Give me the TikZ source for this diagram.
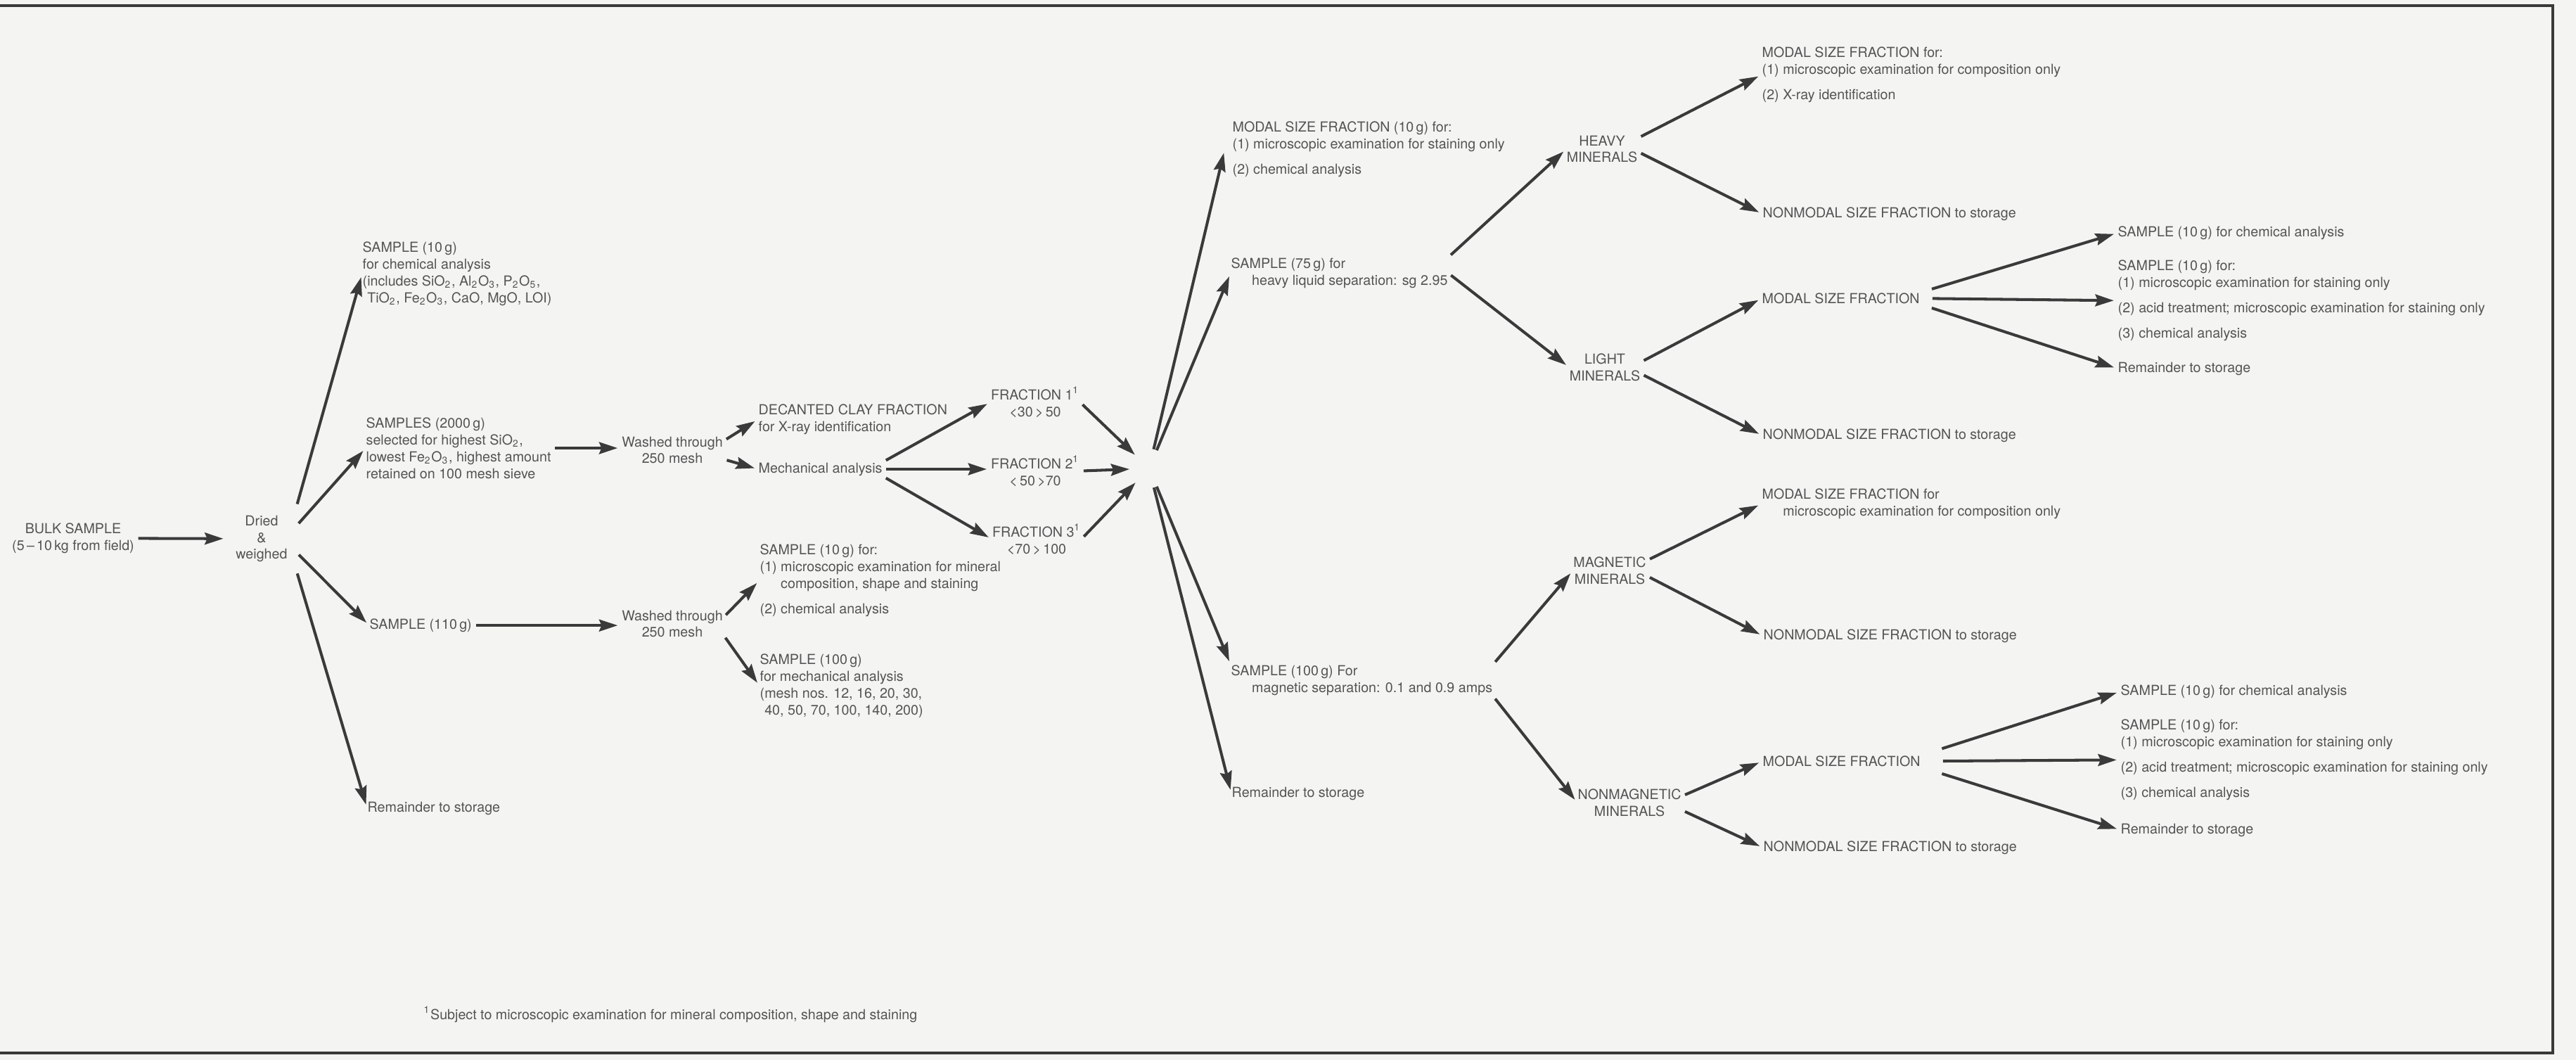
\documentclass[tikz,border=0pt]{standalone}
\usepackage{fontspec}
\setmainfont{TeX Gyre Heros}
\usetikzlibrary{arrows.meta}

\definecolor{carta}{HTML}{F4F4F2}
\definecolor{grigiotesto}{HTML}{545454}
\definecolor{grigiolinea}{HTML}{3A3A3A}
\newcommand{\pedice}[1]{\textsubscript{#1}}

\begin{document}
\begin{tikzpicture}
			% Stili per testi e frecce di questo schema
			\tikzset{voce/.style={inner sep=0pt, anchor=north west, align=left, text=grigiotesto, font=\fontsize{5.6}{6.8}\selectfont},
				centro/.style={voce, anchor=north, align=center},
				freccia/.style={draw=grigiolinea, line width=1.15pt, -{Stealth[length=7.5pt,width=4.8pt,inset=1pt]}, shorten >=1.5pt, shorten <=1.5pt}}
			
			% Foglio e cornice
			\fill[carta] (0,0) rectangle (36.63,15.07);
			\useasboundingbox (0,0) rectangle (36.63,15.07);
			\draw[grigiolinea, line width=1pt] (0,14.99) -- (36.30,14.99) -- (36.30,0.10) -- (0,0.10);
			
			% Campione di partenza
			\node[centro] (bulk) at (1.04,7.64) {BULK SAMPLE\\(5\,--\,10\,kg from field)};
			\node[centro, anchor=center, inner sep=3.4pt] (dried) at (3.72,7.41) {Dried\\\&\\weighed};
			
			\node[voce] (s10) at (5.15,11.64) {SAMPLE (10\,g)\\for chemical analysis\\(includes SiO\pedice{2}, Al\pedice{2}O\pedice{3}, P\pedice{2}O\pedice{5},\\\phantom{(}TiO\pedice{2}, Fe\pedice{2}O\pedice{3}, CaO, MgO, LOI)};
			\node[voce] (s2000) at (5.20,9.14) {SAMPLES (2000\,g)\\selected for highest SiO\pedice{2},\\lowest Fe\pedice{2}O\pedice{3}, highest amount\\retained on 100 mesh sieve};
			\node[voce] (s110) at (5.25,6.28) {SAMPLE (110\,g)};
			\node[voce] (rem1) at (5.22,3.68) {Remainder to storage};
			
			% Lavaggio e analisi meccanica
			\node[centro] (wash1) at (9.56,8.87) {Washed through\\250 mesh};
			\node[centro] (wash2) at (9.56,6.40) {Washed through\\250 mesh};
			\node[voce] (clay) at (10.78,9.33) {DECANTED CLAY FRACTION\\for X-ray identification};
			\node[voce] (mech) at (10.78,8.50) {Mechanical analysis};
			\node[centro] (fr1) at (14.72,9.58) {FRACTION 1\textsuperscript{1}\\{<}30\,{>}\,50};
			\node[centro] (fr2) at (14.72,8.60) {FRACTION 2\textsuperscript{1}\\{<}\,50\,{>}70};
			\node[centro] (fr3) at (14.74,7.63) {FRACTION 3\textsuperscript{1}\\{<}70\,{>}\,100};
			\node[voce] (s10b) at (10.80,7.34) {SAMPLE (10\,g) for:\\(1) microscopic examination for mineral\\\phantom{(1) }composition, shape and staining\\[3.5pt](2) chemical analysis};
			\node[voce] (s100) at (10.80,5.78) {SAMPLE (100\,g)\\for mechanical analysis\\(mesh nos. 12, 16, 20, 30,\\\phantom{(}40, 50, 70, 100, 140, 200)};
			\node[circle, minimum size=0.44cm, inner sep=0pt] (hub) at (16.34,8.41) {};
			
			% Frazioni riunite
			\node[voce] (modal10) at (17.52,13.35) {MODAL SIZE FRACTION (10\,g) for:\\(1) microscopic examination for staining only\\[3.5pt](2) chemical analysis};
			\node[voce] (s75) at (17.50,11.41) {SAMPLE (75\,g) for\\\phantom{(1) }heavy liquid separation: sg 2.95};
			\node[voce] (s100m) at (17.50,5.62) {SAMPLE (100\,g) For\\\phantom{(1) }magnetic separation: 0.1 and 0.9 amps};
			\node[voce] (rem2) at (17.51,3.89) {Remainder to storage};
			
			% Separazioni
			\node[centro] (heavy) at (22.78,13.15) {HEAVY\\MINERALS};
			\node[centro] (light) at (22.82,10.05) {LIGHT\\MINERALS};
			\node[centro] (magn) at (22.89,7.16) {MAGNETIC\\MINERALS};
			\node[centro] (nonmagn) at (23.17,3.86) {NONMAGNETIC\\MINERALS};
			
			\node[voce] (hmodal) at (25.05,14.41) {MODAL SIZE FRACTION for:\\(1) microscopic examination for composition only\\[3.5pt](2) X-ray identification};
			\node[voce] (hnon) at (25.06,12.13) {NONMODAL SIZE FRACTION to storage};
			\node[voce] (lmodal) at (25.05,10.91) {MODAL SIZE FRACTION};
			\node[voce] (lnon) at (25.06,8.98) {NONMODAL SIZE FRACTION to storage};
			\node[voce] (mmodal) at (25.05,8.13) {MODAL SIZE FRACTION for\\\phantom{(1) }microscopic examination for composition only};
			\node[voce] (mnon) at (25.07,6.13) {NONMODAL SIZE FRACTION to storage};
			\node[voce] (nmodal) at (25.06,4.33) {MODAL SIZE FRACTION};
			\node[voce] (nnon) at (25.07,3.12) {NONMODAL SIZE FRACTION to storage};
			
			\node[voce] (lchem) at (30.11,11.86) {SAMPLE (10\,g) for chemical analysis};
			\node[voce] (lstain) at (30.11,11.38) {SAMPLE (10\,g) for:\\(1) microscopic examination for staining only\\[3.5pt](2) acid treatment; microscopic examination for staining only\\[3.5pt](3) chemical analysis};
			\node[voce] (lrem) at (30.11,9.93) {Remainder to storage};
			\node[voce] (nchem) at (30.15,5.34) {SAMPLE (10\,g) for chemical analysis};
			\node[voce] (nstain) at (30.15,4.85) {SAMPLE (10\,g) for:\\(1) microscopic examination for staining only\\[3.5pt](2) acid treatment; microscopic examination for staining only\\[3.5pt](3) chemical analysis};
			\node[voce] (nrem) at (30.15,3.37) {Remainder to storage};
			
			\node[voce] (nota) at (6.02,0.77) {\textsuperscript{1}Subject to microscopic examination for mineral composition, shape and staining};
			
			% Frecce
			\draw[freccia] (bulk) -- (dried);
			\draw[freccia] (dried.42) -- (s10.west);
			\draw[freccia] (dried.20) -- (s2000.west);
			\draw[freccia] (dried.-21) -- (s110.west);
			\draw[freccia] (dried.-42) -- (rem1.west);
			\draw[freccia] (s2000.east) -- (s2000.east -| wash1.west);
			\draw[freccia] (s110.east) -- (s110.east -| wash2.west);
			\draw[freccia] (wash1.10) -- (clay.west);
			\draw[freccia] (wash1.-10) -- (mech.west);
			\draw[freccia] (wash2.7) -- (s10b.west);
			\draw[freccia] (wash2.-12) -- (s100.west);
			\draw[freccia] (mech.north east) -- (fr1.west);
			\draw[freccia] (mech.east) -- (mech.east -| fr2.west);
			\draw[freccia] (mech.south east) -- (fr3.west);
			\draw[freccia] (fr1.east) -- (hub);
			\draw[freccia] (fr2.east) -- (hub);
			\draw[freccia] (fr3.east) -- (hub);
			\draw[freccia] (hub) -- ([xshift=-3pt]modal10.west);
			\draw[freccia] (hub) -- (s75.west);
			\draw[freccia] (hub) -- (s100m.north west);
			\draw[freccia] (hub) -- (rem2.west);
			\draw[freccia] (s75.north east) -- (heavy.west);
			\draw[freccia] (s75.east) -- (light.west);
			\draw[freccia] (s100m.north east) -- (magn.west);
			\draw[freccia] (s100m.south east) -- (nonmagn.west);
			\draw[freccia] (heavy.17) -- (hmodal.west);
			\draw[freccia] (heavy.-4) -- (hnon.west);
			\draw[freccia] (light.8) -- (lmodal.west);
			\draw[freccia] (light.-10) -- (lnon.west);
			\draw[freccia] (magn.15) -- (mmodal.west);
			\draw[freccia] (magn.-8) -- (mnon.west);
			\draw[freccia] (nonmagn.7) -- (nmodal.west);
			\draw[freccia] (nonmagn.-8) -- (nnon.west);
			\draw[freccia, shorten <=5pt] (lmodal.north east) -- (lchem.west);
			\draw[freccia, shorten <=5pt] (lmodal.east) -- (lstain.west);
			\draw[freccia, shorten <=5pt] (lmodal.south east) -- (lrem.west);
			\draw[freccia, shorten <=9pt] (nmodal.north east) -- (nchem.west);
			\draw[freccia, shorten <=9pt] (nmodal.east) -- (nstain.west);
			\draw[freccia, shorten <=9pt] (nmodal.south east) -- (nrem.west);
		\end{tikzpicture}
\end{document}
